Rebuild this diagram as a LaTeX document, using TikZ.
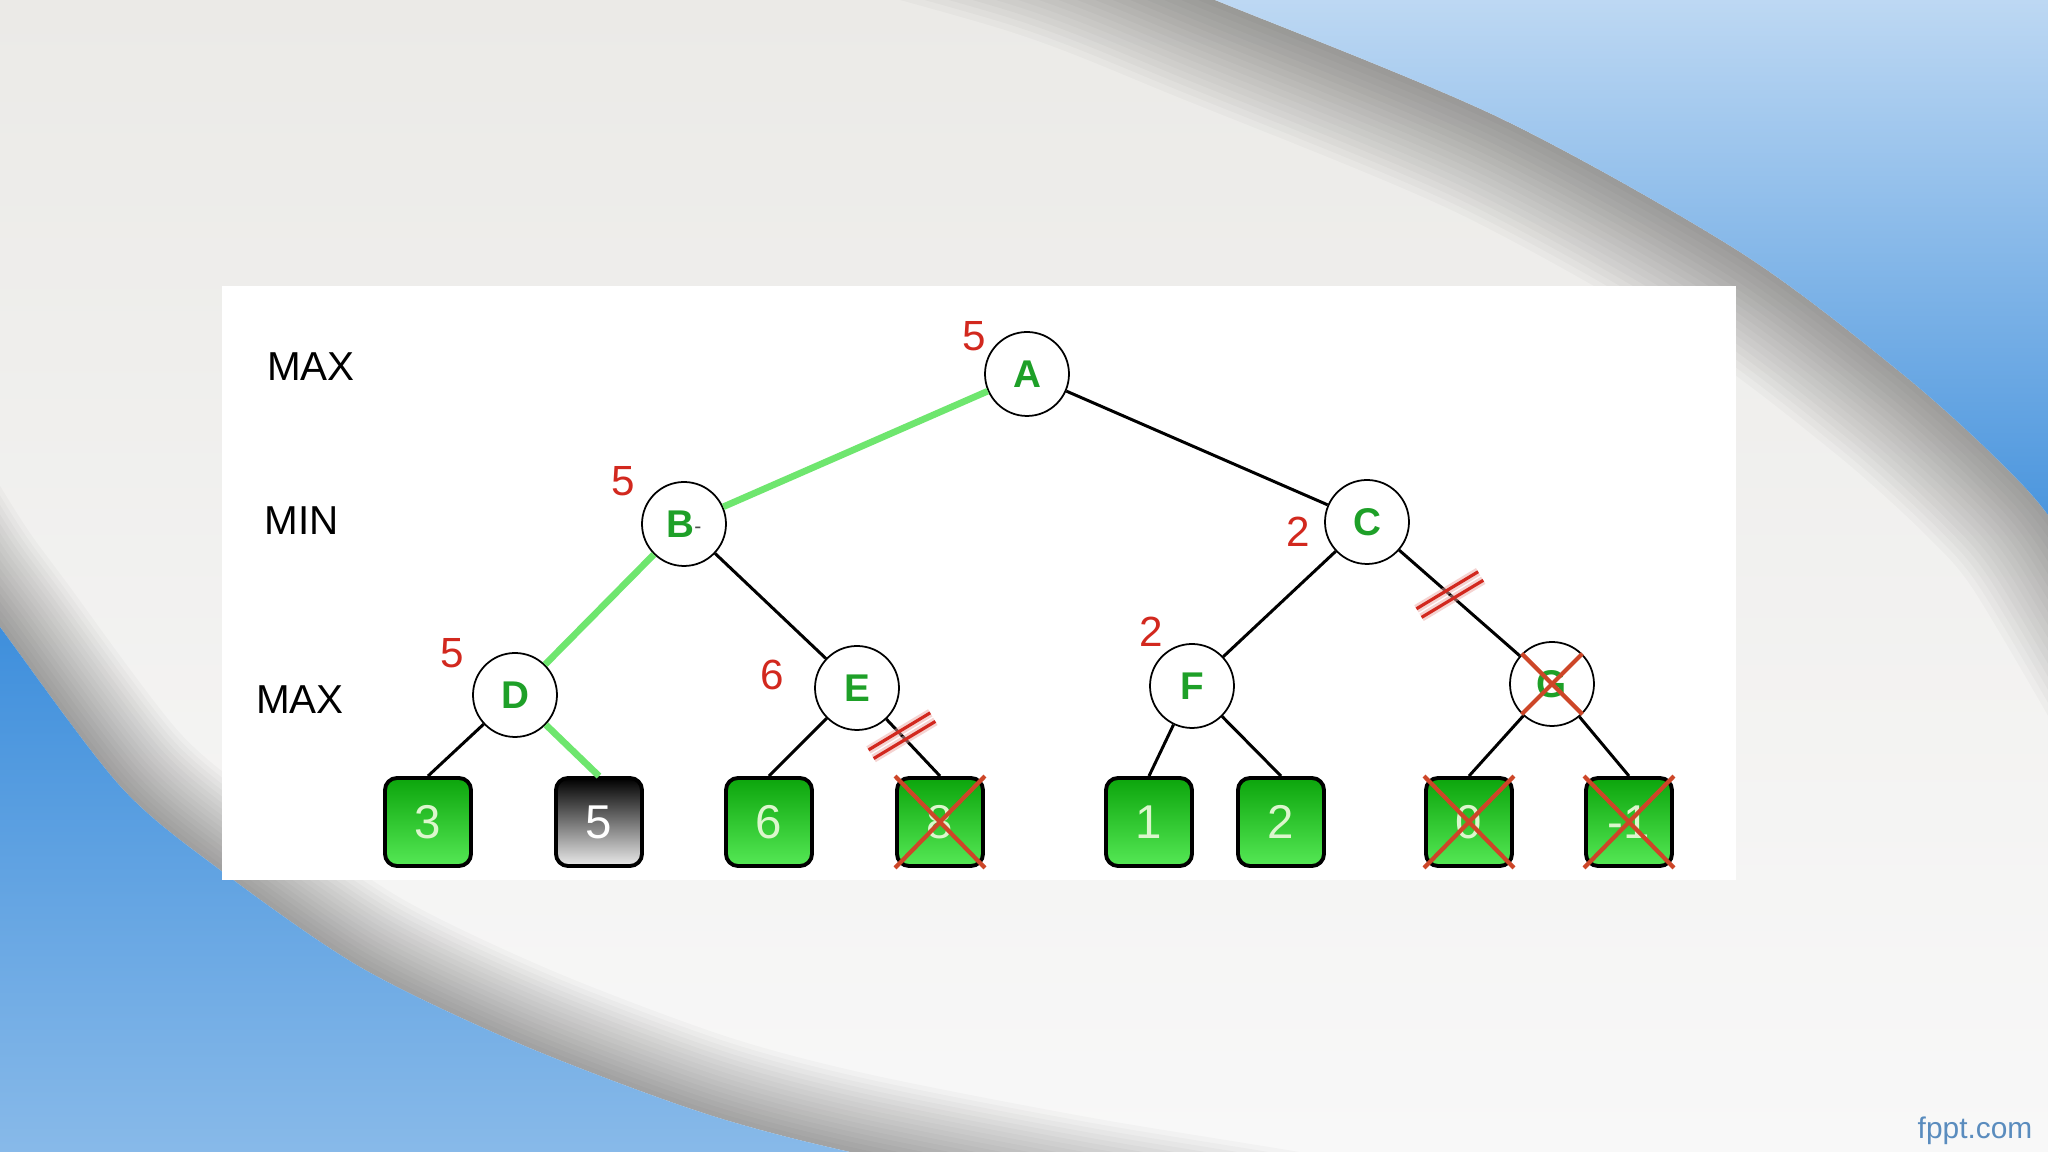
\documentclass[tikz,border=0pt]{standalone}
\usepackage{fontspec}
\setmainfont{Liberation Sans}
\usetikzlibrary{positioning}
\definecolor{pagegray}{RGB}{235,234,231}
\definecolor{pagelight}{RGB}{248,248,248}
\definecolor{skylight}{RGB}{222,235,249}
\definecolor{skydark}{RGB}{34,126,214}
\definecolor{seadark}{RGB}{30,124,214}
\definecolor{sealight}{RGB}{142,189,234}
\definecolor{nodegreen}{RGB}{30,160,40}
\definecolor{pathgreen}{RGB}{110,230,110}
\definecolor{valred}{RGB}{210,40,30}
\definecolor{crossred}{RGB}{205,70,40}
\definecolor{leaftop}{RGB}{12,165,12}
\definecolor{leafbot}{RGB}{85,232,85}
\definecolor{leaftext}{RGB}{220,246,205}
\definecolor{brandblue}{RGB}{90,140,190}

\begin{document}
\begin{tikzpicture}
  [x=1cm, y=1cm]
  \tikzstyle{circ} = [circle, draw=black, fill=white, line width=0.5pt, minimum size=8.4mm, inner sep=0pt, text=nodegreen, font=\fontsize{11}{11}\selectfont\bfseries];
  \tikzstyle{leaf} = [draw=black, line width=1.1pt, rounded corners=1.2mm, minimum width=8.6mm, minimum height=8.8mm, inner sep=0pt, top color=leaftop, bottom color=leafbot, text=leaftext, font=\fontsize{13.5}{13.5}\selectfont];
  \tikzstyle{dark_leaf} = [leaf, top color=black, bottom color=white!92!black, text=white];
  \tikzstyle{level} = [font=\fontsize{11.5}{11.5}\selectfont];
  \tikzstyle{value} = [text=valred, font=\fontsize{12}{12}\selectfont];
  \tikzstyle{edge} = [draw=black, line width=0.85pt];
  \tikzstyle{best} = [draw=pathgreen, line width=1.9pt];
  \tikzstyle{cross} = [draw=crossred, line width=1.2pt];
  \tikzstyle{cut} = [draw=valred, line width=0.9pt];

  % background
  \useasboundingbox (0,0) rectangle (20.48,11.52);
  \begin{scope}
    \clip plot[smooth] coordinates {(7.5,13.0) (10.4,12.2) (12.2,11.5) (15.0,10.34) (17.4,9.0) (19.0,7.8) (20.0,6.9) (20.6,6.2) (21.6,4.5)}
      -- (23,-3) -- (-3,-3) -- (-3,14) -- cycle;
    \clip plot[smooth] coordinates {(-1.5,7.6) (-0.5,5.95) (0,5.25) (1.2,3.66) (2.2,2.82) (3.6,1.85) (5.2,1.08) (7.0,0.4) (8.5,0) (10.8,-0.45) (13.5,-0.9) (16.5,-1.5)}
      -- (23,-3) -- (23,14) -- (-3,14) -- cycle;
    \shade[top color=pagegray, bottom color=pagelight] (0,0) rectangle (20.48,11.52);
    \foreach \i in {1,...,16} {
      \draw[black, opacity=0.022, line width=\i*0.13cm] plot[smooth] coordinates {(7.5,13.0) (10.4,12.2) (12.2,11.5) (15.0,10.34) (17.4,9.0) (19.0,7.8) (20.0,6.9) (20.6,6.2) (21.6,4.5)};
      \draw[black, opacity=0.022, line width=\i*0.1cm] plot[smooth] coordinates {(-1.5,7.6) (-0.5,5.95) (0,5.25) (1.2,3.66) (2.2,2.82) (3.6,1.85) (5.2,1.08) (7.0,0.4) (8.5,0) (10.8,-0.45) (13.5,-0.9) (16.5,-1.5)};
    }
  \end{scope}
  \shade[top color=skylight, bottom color=skydark] plot[smooth] coordinates {(7.5,13.0) (10.4,12.2) (12.2,11.5) (15.0,10.34) (17.4,9.0) (19.0,7.8) (20.0,6.9) (20.6,6.2) (21.6,4.5)}
    -- (21.6,13.0) -- cycle;
  \shade[top color=seadark, bottom color=sealight] plot[smooth] coordinates {(-1.5,7.6) (-0.5,5.95) (0,5.25) (1.2,3.66) (2.2,2.82) (3.6,1.85) (5.2,1.08) (7.0,0.4) (8.5,0) (10.8,-0.45)}
    -- (-1.5,-0.45) -- cycle;
  \fill[white] (2.22,2.72) rectangle (17.36,8.66);

  \node[level] (max1) at (3.11, 7.85) {MAX};
  \node[level] (min1) at (3.02, 6.31) {MIN};
  \node[level] (max2) at (3.00, 4.52) {MAX};

  \node[circ] (A) at (10.27, 7.78) {A};
  \node[circ] (B) at (6.84, 6.28) {B\raisebox{1.2pt}{\color{black!70}\fontsize{6}{6}\selectfont\mdseries -}};
  \node[circ] (C) at (13.67, 6.30) {C};
  \node[circ] (D) at (5.15, 4.57) {D};
  \node[circ] (E) at (8.57, 4.64) {E};
  \node[circ] (F) at (11.92, 4.66) {F};
  \node[circ] (G) at (15.52, 4.68) {G};

  \node[leaf]      (l1) at (4.28, 3.30) {3};
  \node[dark_leaf] (l2) at (5.99, 3.30) {5};
  \node[leaf]      (l3) at (7.69, 3.30) {6};
  \node[leaf]      (l4) at (9.40, 3.30) {8};
  \node[leaf]      (l5) at (11.49, 3.30) {1};
  \node[leaf]      (l6) at (12.81, 3.30) {2};
  \node[leaf]      (l7) at (14.69, 3.30) {0};
  \node[leaf]      (l8) at (16.29, 3.30) {-1};

  \node[value] (vA) at (9.74, 8.16) {5};
  \node[value] (vB) at (6.23, 6.71) {5};
  \node[value] (vC) at (12.98, 6.20) {2};
  \node[value] (vD) at (4.52, 4.99) {5};
  \node[value] (vE) at (7.72, 4.77) {6};
  \node[value] (vF) at (11.51, 5.20) {2};

  \draw[best] (A) -- (B);
  \draw[edge] (A) -- (C);
  \draw[best] (B) -- (D);
  \draw[edge] (B) -- (E);
  \draw[edge] (C) -- (F);
  \draw[edge] (C) -- coordinate[pos=0.42] (cutCG) (G);
  \draw[edge] (D) -- (l1.north);
  \draw[best] (D) -- (l2.north);
  \draw[edge] (E) -- (l3.north);
  \draw[edge] (E) -- coordinate[pos=0.29] (cutE) (l4.north);
  \draw[edge] (F) -- (l5.north);
  \draw[edge] (F) -- (l6.north);
  \draw[edge] (G) -- (l7.north);
  \draw[edge] (G) -- (l8.north);

  % pruned
  \foreach \l in {l4, l7, l8}
    \draw[cross] (\l.north west) -- (\l.south east) (\l.north east) -- (\l.south west);
  \draw[cross] (G.north west) -- (G.south east) (G.north east) -- (G.south west);
  \foreach \c in {cutCG, cutE} {
    \begin{scope}[shift={(\c)}, rotate=31]
      \draw[valred!40, line width=2.4pt, opacity=0.5] (-0.36,0.05) -- (0.36,0.05) (-0.36,-0.05) -- (0.36,-0.05);
      \draw[cut] (-0.36,0.05) -- (0.36,0.05) (-0.36,-0.05) -- (0.36,-0.05);
    \end{scope}
  }

  \node[text=brandblue, font=\fontsize{8.5}{8.5}\selectfont] (brand) at (19.75, 0.21) {fppt.com};
\end{tikzpicture}
\end{document}
